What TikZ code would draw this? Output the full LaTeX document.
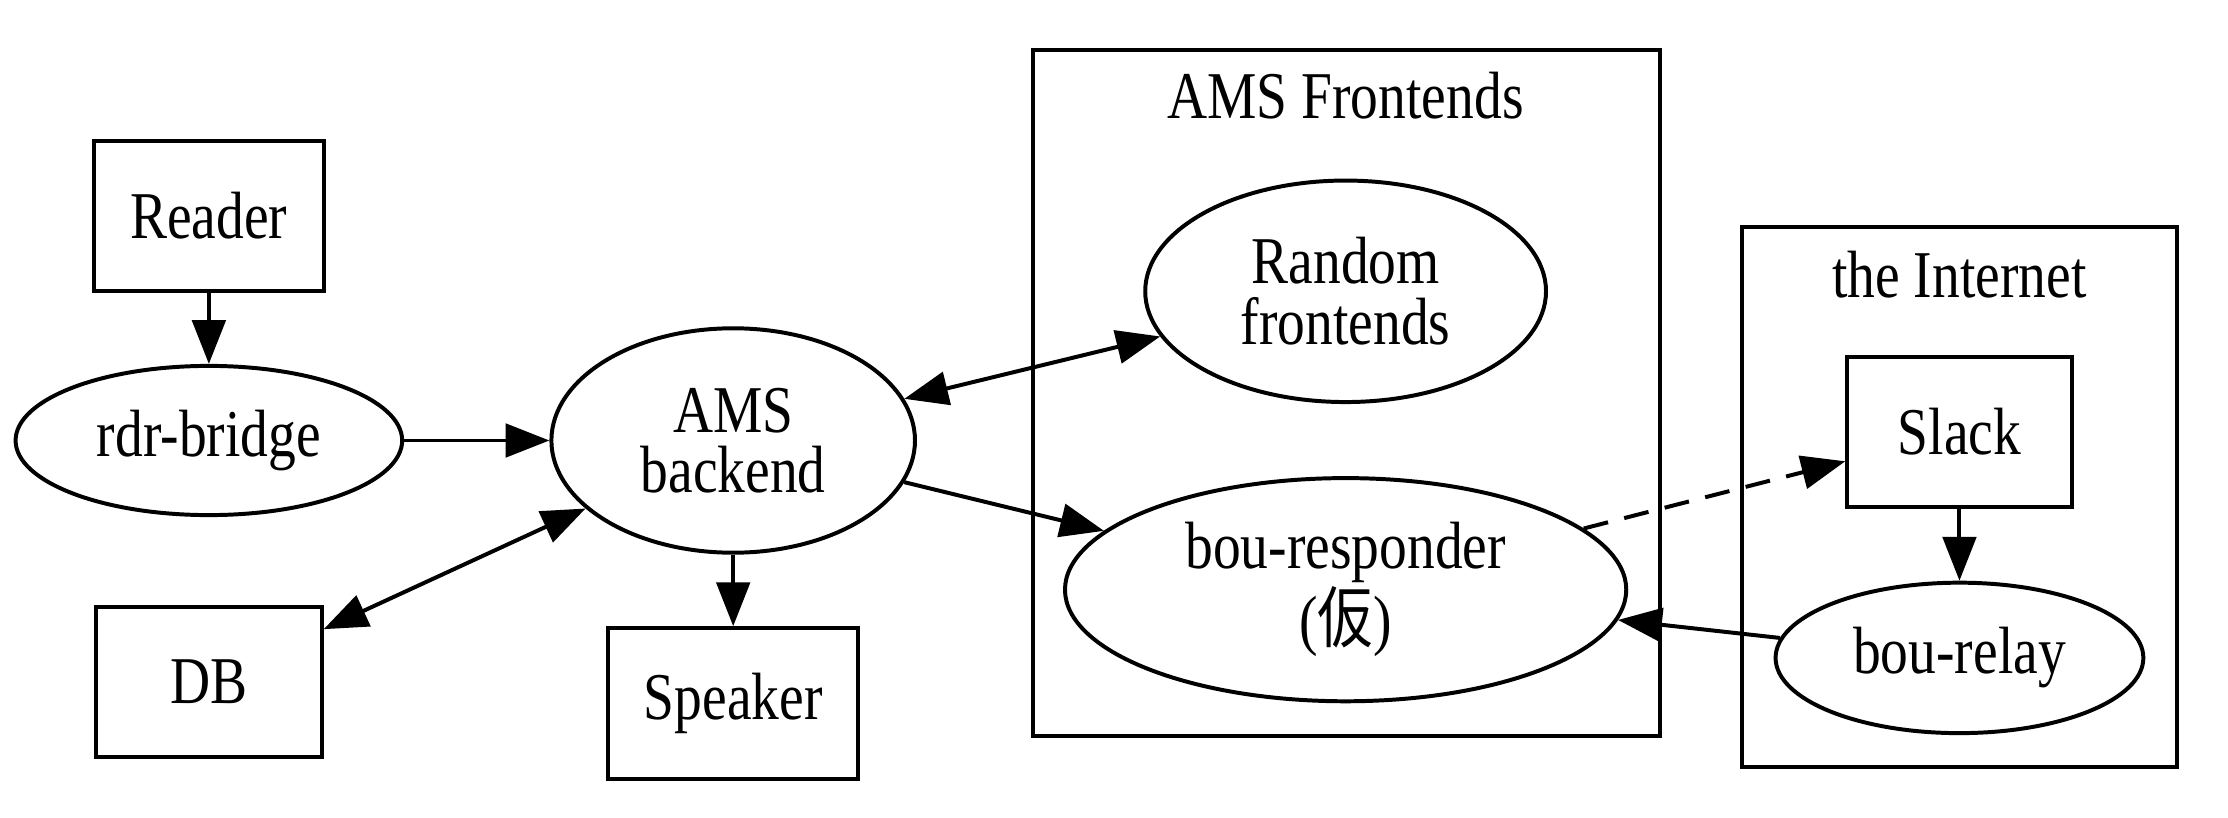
\documentclass[tikz,border=0pt]{standalone}
\usepackage{fontspec}
\setmainfont{Liberation Serif}[FakeStretch=0.83]
\newfontfamily\cjk{Noto Sans CJK JP}[FakeStretch=0.83]
\usetikzlibrary{arrows.meta,shapes.geometric}
\tikzset{
  base/.style={draw, line width=0.95pt, inner sep=0pt, align=center, font=\fontsize{16}{14.5}\selectfont},
  boxnode/.style={base, rectangle},
  ellnode/.style={base, ellipse},
  tip/.tip={Triangle[length=10.5pt,width=8pt]},
  edge/.style={line width=0.95pt, -tip},
  biedge/.style={line width=0.95pt, tip-tip},
  dashededge/.style={edge, dash pattern=on 6pt off 4pt},
  cluster/.style={draw, line width=0.95pt},
  clabel/.style={font=\fontsize{16}{14.5}\selectfont}
}
\begin{document}
\begin{tikzpicture}[x=0.34pt,y=-0.34pt]
\useasboundingbox (0,0) rectangle (1568,575);
% clusters
\draw[cluster] (727,35) rectangle (1168,518);
\node[clabel] (lblams) at (947,67) {AMS Frontends};
\draw[cluster] (1226,160) rectangle (1532,540);
\node[clabel] (lblnet) at (1379,193) {the Internet};
% nodes
\node[boxnode, minimum width=55.1pt, minimum height=36pt] (reader) at (147,152) {Reader};
\node[ellnode, minimum width=92.5pt, minimum height=35.7pt] (rdr) at (147,310) {rdr-bridge};
\node[boxnode, minimum width=54pt, minimum height=35.7pt] (db) at (147,480) {DB};
\node[ellnode, minimum width=87pt, minimum height=53.7pt] (ams) at (516,310) {AMS\\backend};
\node[boxnode, minimum width=59.8pt, minimum height=36pt] (speaker) at (516,495) {Speaker};
\node[ellnode, minimum width=95.9pt, minimum height=53pt] (random) at (947,205) {Random\\frontends};
\node[ellnode, minimum width=134.3pt, minimum height=53.4pt] (resp) at (947,415) {bou-responder\\({\cjk 仮})};
\node[boxnode, minimum width=53.7pt, minimum height=35.7pt] (slack) at (1379,304) {Slack};
\node[ellnode, minimum width=88pt, minimum height=36pt] (relay) at (1379,463) {bou-relay};
% edges
\draw[edge] (reader) -- (rdr);
\draw[edge] (rdr) -- (ams);
\draw[biedge] (ams) -- (db);
\draw[edge] (ams) -- (speaker);
\draw[biedge] (ams) -- (random);
\draw[edge] (ams) -- (resp);
\draw[dashededge] (resp) -- (slack);
\draw[edge] (slack) -- (relay);
\draw[edge] (relay) -- (resp);
\end{tikzpicture}
\end{document}
